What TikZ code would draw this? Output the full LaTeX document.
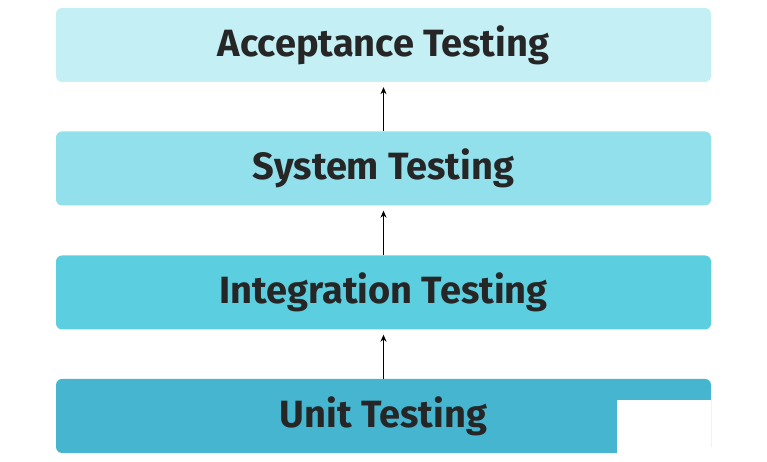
\documentclass[tikz,border=0pt]{standalone}
\usepackage{fontspec}
\setmainfont{Fira Sans}
\definecolor{acc}{HTML}{C4F0F5}
\definecolor{sys}{HTML}{92E0EC}
\definecolor{integ}{HTML}{5BCFE0}
\definecolor{unit}{HTML}{45B5D0}
\tikzset{
  level/.style={rounded corners=6pt,minimum width=655pt,minimum height=74pt,
    inner sep=0pt,font=\fontsize{38}{44}\selectfont\bfseries,text=black!85},
  up/.style={-{Stealth[length=7pt,width=6pt]},thick,shorten >=5pt}
}
\usetikzlibrary{arrows.meta}
\begin{document}
\begin{tikzpicture}[x=1pt,y=1pt]
    \useasboundingbox (0,0) rectangle (767,462);

    \node[level,fill=acc] (acc) at (383.5,417) {Acceptance Testing};
    \node[level,fill=sys] (sys) at (383.5,293.5) {System Testing};
    \node[level,fill=integ] (integ) at (383.5,169.5) {Integration Testing};
    \node[level,fill=unit] (unit) at (383.5,46) {Unit Testing};

    \draw[up] (unit.north) -- (integ.south);
    \draw[up] (integ.north) -- (sys.south);
    \draw[up] (sys.north) -- (acc.south);

    \fill[white] (617,0) rectangle (711,62);
\end{tikzpicture}
\end{document}
